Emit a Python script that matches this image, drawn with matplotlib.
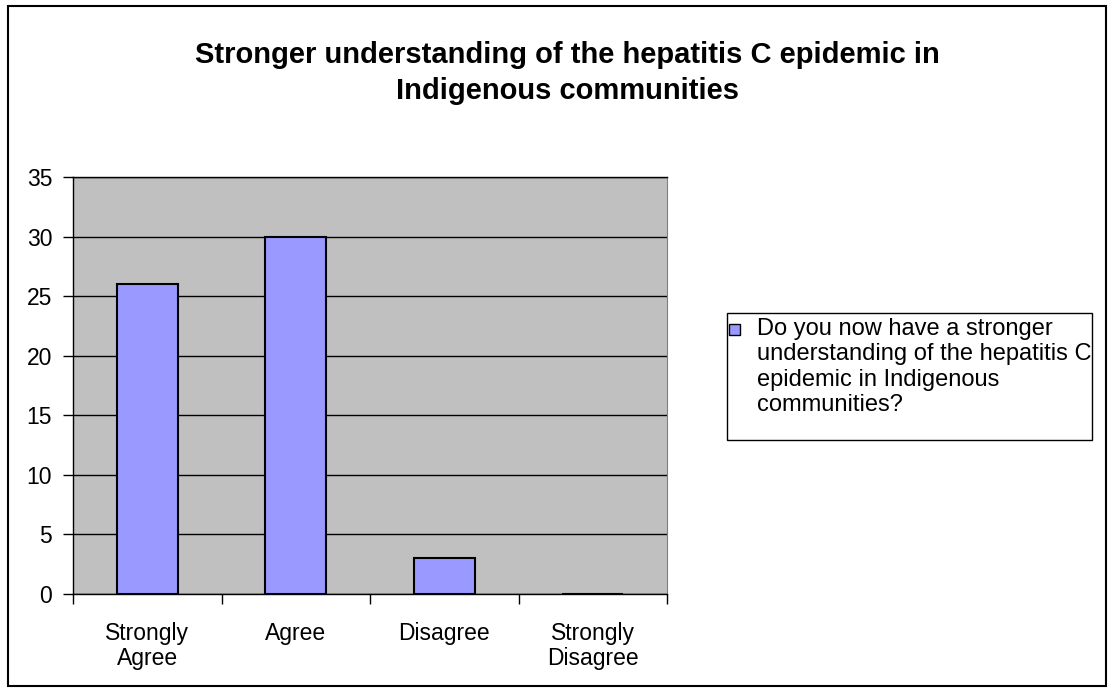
import matplotlib
matplotlib.use('Agg')
import matplotlib.pyplot as plt
from matplotlib.patches import Rectangle
import numpy as np

categories = ['Strongly\nAgree', 'Agree', 'Disagree', 'Strongly\nDisagree']
responses = [26, 30, 3, 0]
series_label = ('Do you now have a stronger\nunderstanding of the hepatitis C\n'
                'epidemic in Indigenous\ncommunities?')
title = 'Stronger understanding of the hepatitis C epidemic in\nIndigenous communities'
yticks = [0, 5, 10, 15, 20, 25, 30, 35]

bar_color = '#9999FF'
W, H = 1114, 692

plt.rcParams['font.family'] = ['Liberation Sans', 'DejaVu Sans']

def fx(px):
    return px / W

def fy(py):
    return 1 - py / H

fig = plt.figure(figsize=(W / 100, H / 100), dpi=100)
fig.patch.set_facecolor('w')
# outer chart border
fig.add_artist(Rectangle((fx(8), fy(686)), 1098 / W, 680 / H,
                         transform=fig.transFigure, fill=False,
                         edgecolor='black', lw=1.5))

ax = fig.add_axes([fx(73), fy(594), 594 / W, 417 / H])
ax.set_facecolor('#C0C0C0')
x = np.arange(len(categories))
ax.bar(x, responses, width=0.41, color=bar_color, edgecolor='black',
       lw=1.5, zorder=3)

ax.set_xlim(-0.5, len(categories) - 0.5)
ax.set_ylim(0, 35)
ax.set_yticks(yticks)
ax.yaxis.grid(True, color='black', lw=1, zorder=0)
ax.tick_params(axis='y', direction='out', length=7, width=1, labelsize=16.5, pad=8)

ax.set_xticks(x)
ax.set_xticklabels(categories, fontsize=16.5, linespacing=1.1)
ax.tick_params(axis='x', which='major', length=0, pad=20)
ax.set_xticks(np.arange(len(categories) + 1) - 0.5, minor=True)
ax.tick_params(axis='x', which='minor', direction='out', length=7, width=1)

for s in ['left', 'bottom', 'top']:
    ax.spines[s].set_color('black')
    ax.spines[s].set_linewidth(1)
ax.spines['right'].set_color('#808080')

fig.text(fx(567), fy(73), title, ha='center', va='center',
         fontsize=21, fontweight='bold', linespacing=1.33)

# legend box, key and wrapped label
fig.add_artist(Rectangle((fx(727), fy(440)), 365 / W, 127 / H,
                         transform=fig.transFigure, facecolor='white',
                         edgecolor='black', lw=1))
fig.add_artist(Rectangle((fx(729), fy(335)), 11 / W, 11 / H,
                         transform=fig.transFigure, facecolor=bar_color,
                         edgecolor='black', lw=1))
fig.text(fx(757), fy(318), series_label, ha='left', va='top',
         fontsize=17, linespacing=1.2)

fig.savefig('out.png', dpi=100, facecolor='w')
